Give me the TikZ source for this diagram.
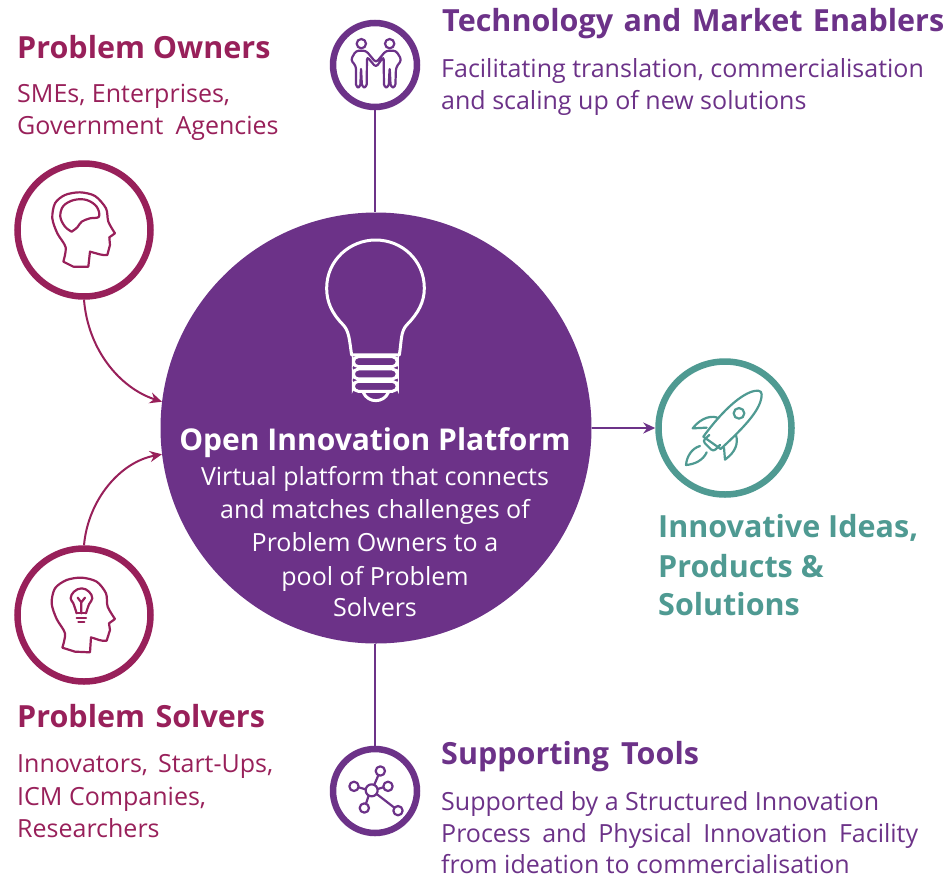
\documentclass[tikz,border=0pt]{standalone}
\usepackage{fontspec}
\setmainfont{Open Sans}
\usetikzlibrary{arrows.meta}
\definecolor{maroon}{HTML}{98205A}
\definecolor{plum}{HTML}{6C3288}
\definecolor{tealc}{HTML}{4F9A92}
\tikzset{
  ring/.style={circle,draw=#1,line width=6.5pt,fill=white,inner sep=0pt},
  link/.style={draw=#1,line width=2pt},
  arrowlink/.style={draw=#1,line width=2pt,-{Stealth[length=12pt,width=11pt]}},
  head/.style={font=\fontsize{30.5}{30.5}\selectfont\bfseries,anchor=base west,inner sep=0pt,text=#1},
  body/.style={font=\fontsize{25}{25}\selectfont,anchor=base west,inner sep=0pt,text=#1},
  mid/.style={font=\fontsize{25}{25}\selectfont,anchor=base,inner sep=0pt,text=white},
  icon/.style={draw=#1,line width=2.2pt,line join=round,line cap=round},
}
\begin{document}
\begin{tikzpicture}[x=1pt,y=-1pt]
\useasboundingbox (0,0) rectangle (947,878);
% nodes
\node[circle,fill=plum,inner sep=0pt,minimum size=431pt] (main) at (376,428) {};
\node[ring=maroon,minimum size=133pt] (owner) at (84,230) {};
\node[ring=maroon,minimum size=133pt] (solver) at (84,615) {};
\node[ring=plum,minimum size=84pt] (enabler) at (375,65) {};
\node[ring=plum,minimum size=84pt] (tools) at (375,791) {};
\node[ring=tealc,minimum size=133pt] (rocket) at (725,428) {};
% connectors
\draw[arrowlink=maroon] (owner.south) .. controls (88,350) and (120,388) .. (main.173);
\draw[arrowlink=maroon] (solver.north) .. controls (88,500) and (120,462) .. (main.187);
\draw[link=plum] (enabler.south) -- (main.north -| enabler.south);
\draw[link=plum] (main.south -| tools.north) -- (tools.north);
\draw[arrowlink=plum] (main.east) -- (rocket.west);
% owner icon
\begin{scope}[shift={(0,150)},x=0.3333pt,y=-0.3333pt]
\draw[icon=maroon] plot[smooth,tension=0.5] coordinates {(190,335) (197,292) (172,250) (157,205) (165,160) (195,135) (240,127) (285,138) (318,175) (325,215) (345,250)}
  -- (328,262) -- (330,285) -- (322,315) .. controls (310,318) and (290,310) .. (270,305) -- (265,350) -- (220,350) -- cycle;
\draw[icon=maroon] plot[smooth,tension=0.6] coordinates {(215,245) (195,230) (181,200) (190,168) (222,150) (260,150) (290,170) (297,200) (270,205) (245,215) (232,232) (215,245)};
\end{scope}
% solver icon
\begin{scope}[shift={(5,545)},x=0.3333pt,y=-0.3333pt]
\draw[icon=maroon] plot[smooth,tension=0.5] coordinates {(172,308) (180,265) (155,222) (140,175) (150,130) (185,105) (230,98) (275,110) (303,145) (308,185) (330,222)}
  -- (312,235) -- (315,255) -- (305,287) .. controls (290,290) and (275,282) .. (258,277) -- (255,322) -- (210,320) -- cycle;
\draw[icon=maroon] plot[smooth,tension=0.7] coordinates {(215,205) (205,175) (197,160) (207,140) (230,130) (252,140) (262,160) (252,178) (243,205)};
\draw[icon=maroon] (215,205) -- (243,205) (215,218) -- (243,218) (220,231) -- (238,231);
\draw[icon=maroon] (229,205) -- (229,172) -- (218,158) (229,172) -- (240,158);
\end{scope}
% enabler icon
\begin{scope}[shift={(320,10)},x=0.3333pt,y=-0.3333pt]
\draw[icon=plum] (124,101) circle[radius=14];
\draw[icon=plum] (209,101) circle[radius=14];
\draw[icon=plum,rounded corners=3pt] (108,168) -- (92,150) -- (108,122) -- (138,122) -- (168,158) -- (198,122) -- (228,122) -- (245,150) -- (228,172) -- (226,232) -- (212,232) -- (209,172) -- (206,232) -- (192,232) -- (191,140) -- (168,172) -- (141,140) -- (140,232) -- (126,232) -- (123,172) -- (121,232) -- (108,232) -- cycle;
\end{scope}
% bulb
\begin{scope}[shift={(310,230)},x=0.3333pt,y=-0.3333pt]
\draw[draw=white,line width=3pt,line join=round,line cap=round]
  (125,375) .. controls (118,330) and (118,305) .. (100,285)
  .. controls (65,250) and (50,215) .. (50,175)
  .. controls (50,90) and (120,30) .. (197,30)
  .. controls (275,30) and (343,90) .. (343,175)
  .. controls (343,215) and (325,250) .. (290,285)
  .. controls (272,305) and (275,330) .. (268,375) -- cycle;
\foreach \yy in {380,417,454}{
\draw[white,line width=3pt,rounded corners=5pt] (130,\yy) rectangle (262,\yy+30);
}
\draw[white,line width=3pt,line cap=round] (160,488) .. controls (175,520) and (220,520) .. (235,488);
\end{scope}
% rocket icon
\begin{scope}[shift={(650,355)},x=0.3333pt,y=-0.3333pt]
\draw[icon=tealc] (160,245) .. controls (200,190) and (255,130) .. (300,112) .. controls (320,104) and (335,105) .. (335,118) .. controls (335,160) and (290,210) .. (212,282) -- cycle;
\draw[icon=tealc] (267,175) circle[radius=16];
\draw[icon=tealc] (205,190) .. controls (190,180) and (155,185) .. (128,220) -- (170,218);
\draw[icon=tealc] (258,240) .. controls (265,265) and (258,290) .. (225,314) -- (222,278);
\draw[icon=tealc,rounded corners=3pt] (178,240) -- (158,258) -- (190,290) -- (210,270);
\draw[icon=tealc] (150,273) .. controls (125,280) and (110,305) .. (108,330) .. controls (135,328) and (160,315) .. (170,292);
\end{scope}
% tools icon
\begin{scope}[shift={(320,740)},x=0.3333pt,y=-0.3333pt]
\draw[icon=plum] (155,151) circle[radius=18];
\draw[icon=plum] (181,93) circle[radius=14];
\draw[icon=plum] (102,139) circle[radius=14];
\draw[icon=plum] (204,139) circle[radius=14];
\draw[icon=plum] (133,204) circle[radius=14];
\draw[icon=plum] (234,212) circle[radius=14];
\draw[icon=plum] (163,134) -- (175,106) (116,142) -- (137,148) (173,147) -- (190,142) (146,167) -- (138,191) (170,162) -- (223,203);
\end{scope}
% text
\node[head=maroon] (t1) at (17,58) {Problem Owners};
\node[body=maroon] (t2) at (17,102) {SMEs, Enterprises,};
\node[body=maroon] (t3) at (17,134) {\spaceskip=12pt Government Agencies};
\node[head=maroon] (t4) at (17,727) {\spaceskip=10.5pt Problem Solvers};
\node[body=maroon] (t5) at (17,772) {\spaceskip=10pt Innovators, Start-Ups,};
\node[body=maroon] (t6) at (17,805) {ICM Companies,};
\node[body=maroon] (t7) at (17,837) {Researchers};
\node[head=plum] (t8) at (442,31) {\spaceskip=10.5pt Technology and Market Enablers};
\node[body=plum] (t9) at (441,77) {Facilitating translation, commercialisation};
\node[body=plum] (t10) at (441,109) {and scaling up of new solutions};
\node[head=plum] (t11) at (441,764) {\spaceskip=12pt Supporting Tools};
\node[body=plum] (t12) at (441,810) {Supported by a Structured Innovation};
\node[body=plum] (t13) at (441,842) {\spaceskip=11.5pt Process and Physical Innovation Facility};
\node[body=plum] (t14) at (441,873) {from ideation to commercialisation};
\node[head=tealc] (t15) at (658,537) {Innovative Ideas,};
\node[head=tealc] (t16) at (658,577) {Products \&};
\node[head=tealc] (t17) at (658,615) {Solutions};
\node[mid,font=\fontsize{30}{30}\selectfont\bfseries] (m1) at (375,450) {Open Innovation Platform};
\node[mid] (m2) at (375,485) {Virtual platform that connects};
\node[mid] (m3) at (375,518) {and matches challenges of};
\node[mid] (m4) at (375,551) {Problem Owners to a};
\node[mid] (m5) at (375,585) {pool of Problem};
\node[mid] (m6) at (375,616) {Solvers};
\end{tikzpicture}
\end{document}
